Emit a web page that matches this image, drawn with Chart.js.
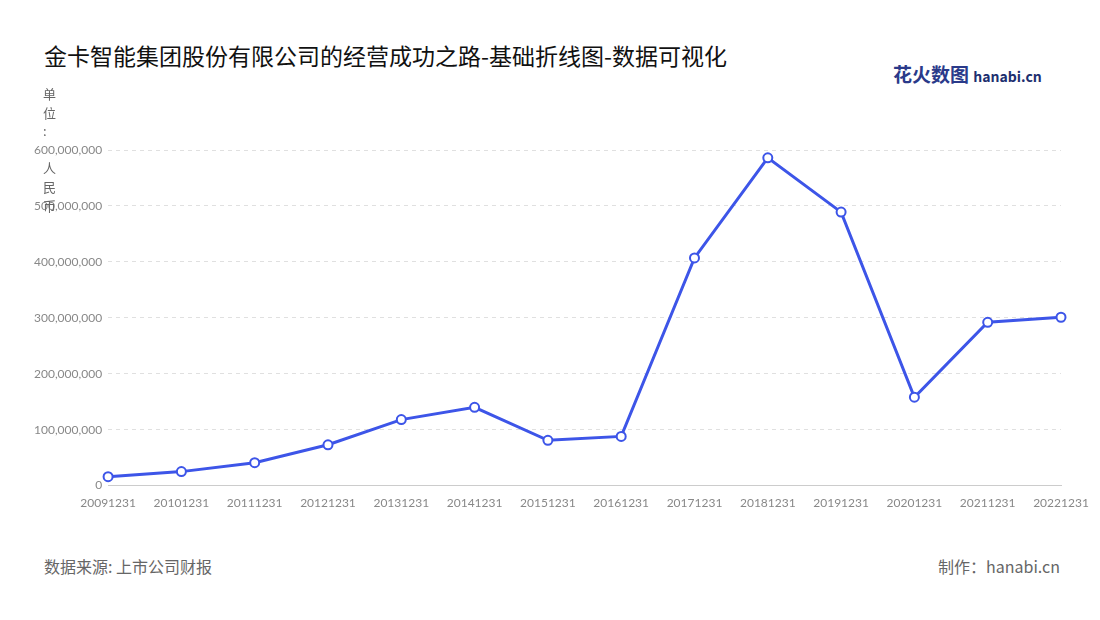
<!DOCTYPE html>
<html><head><meta charset="utf-8">
<script src="https://cdn.jsdelivr.net/npm/chart.js@4/dist/chart.umd.min.js"></script>
<style>
body{margin:0;width:1100px;height:620px;background:#fff;font-family:"Noto Sans CJK SC","Noto Sans",sans-serif;position:relative;overflow:hidden}
#t{position:absolute;left:44px;top:38px;font-size:23px;color:#111}
#u{position:absolute;left:43px;top:85px;font-size:13px;line-height:18.6px;color:#666;z-index:2}
#s{position:absolute;left:44px;top:554px;font-size:16px;color:#666}
#m{position:absolute;right:40px;top:554px;font-size:16px;color:#666}
#logo{position:absolute;left:893px;top:60px;font-size:19px;font-weight:bold;color:#2a3a8a}
#logo span{font-size:14px;color:#1d2f6f}
#c{position:absolute;left:0;top:0}
</style></head><body>
<div id="t">金卡智能集团股份有限公司的经营成功之路-基础折线图-数据可视化</div>
<div id="logo">花火数图 <span>hanabi.cn</span></div>
<div id="u">单<br>位<br>:<br>&nbsp;<br>人<br>民<br>币</div>
<div id="s">数据来源: 上市公司财报</div>
<div id="m">制作：hanabi.cn</div>
<canvas id="c" width="1100" height="620"></canvas>
<script>
const categories=["20091231","20101231","20111231","20121231","20131231","20141231","20151231","20161231","20171231","20181231","20191231","20201231","20211231","20221231"];
const values=[16000000,25000000,41000000,73000000,118000000,140000000,81000000,88000000,407000000,586000000,489000000,158000000,292000000,301000000];
const yTicks=[0,100000000,200000000,300000000,400000000,500000000,600000000];
new Chart(document.getElementById('c'),{type:'line',
data:{labels:categories,datasets:[{data:values,borderColor:'#3d55e8',borderWidth:3,tension:0,
pointRadius:4.5,pointBackgroundColor:'#fff',pointBorderColor:'#3d55e8',pointBorderWidth:2}]},
options:{responsive:false,animation:false,
layout:{padding:{left:28,top:150,right:39,bottom:108}},
plugins:{legend:{display:false},tooltip:{enabled:false}},
scales:{
x:{offset:false,grid:{display:false,drawTicks:true},border:{color:'#ccc'},
ticks:{color:'#888',font:{size:12,family:'Lato'},maxRotation:0,autoSkip:false,padding:2}},
y:{min:0,max:600000000,afterBuildTicks:a=>{a.ticks=yTicks.map(v=>({value:v}))},
grid:{color:'#e0e0e0',drawTicks:false,tickLength:0},
border:{display:false,dash:[4,4]},
ticks:{color:'#888',padding:6,font:{size:12,family:'Lato'},callback:v=>v.toLocaleString('en-US')}}}}});
</script></body></html>
